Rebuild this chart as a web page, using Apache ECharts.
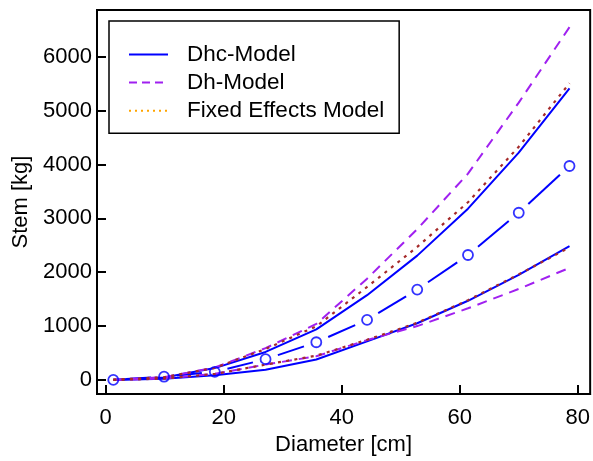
<!DOCTYPE html>
<html>
<head>
<meta charset="utf-8">
<script src="https://cdn.jsdelivr.net/npm/echarts@6/dist/echarts.min.js"></script>
<style>
html,body{margin:0;padding:0;background:#fff;}
#chart{width:593px;height:461px;}
</style>
</head>
<body>
<div id="chart"></div>
<script>
// ---- data ----
const diameters   = [1.3, 9.9, 18.5, 27.1, 35.7, 44.3, 52.8, 61.4, 70.0, 78.6];
const meanStem    = [0, 60, 150, 385, 700, 1115, 1677, 2320, 3104, 3972];
const dhcUpper    = [5, 45, 220, 520, 940, 1574, 2308, 3180, 4220, 5412];
const dhcLower    = [0, 20, 86, 190, 380, 716, 1053, 1470, 1950, 2485];
const dhUpper     = [5, 50, 230, 590, 1040, 1880, 2800, 3830, 5150, 6551];
const dhLower     = [0, 25, 115, 285, 440, 740, 1000, 1330, 1690, 2081];
const fixedUpper  = [5, 50, 225, 575, 995, 1726, 2470, 3300, 4330, 5510];
const fixedLower  = [0, 25, 110, 285, 450, 745, 1060, 1480, 1960, 2461];
const xTicks = [0, 20, 40, 60, 80];
const yTicks = [0, 1000, 2000, 3000, 4000, 5000, 6000];
const seriesNames = ['Dhc-Model', 'Dh-Model', 'Fixed Effects Model'];

const FONT = "'Liberation Sans', Arial, sans-serif";
const pairs = vals => diameters.map((d, i) => [d, vals[i]]);

function lineSeries(name, vals, color, type, width) {
  return {
    type: 'line', name: name, data: pairs(vals), symbol: 'none',
    lineStyle: { color: color, type: type, width: width, cap: 'butt' },
    itemStyle: { color: color }, silent: true
  };
}

const segments = [];
for (let i = 0; i < diameters.length - 1; i++) {
  segments.push([diameters[i], meanStem[i], diameters[i + 1], meanStem[i + 1]]);
}

const chart = echarts.init(document.getElementById('chart'), null, { renderer: 'canvas' });
chart.setOption({
  animation: false,
  backgroundColor: '#fff',
  textStyle: { fontFamily: FONT },
  grid: { left: 97, right: 1.5, top: 10, bottom: 62.7, show: true, borderColor: '#000', borderWidth: 2 },
  xAxis: {
    type: 'value', min: -1.46, max: 82.1,
    name: 'Diameter [cm]', nameLocation: 'middle', nameGap: 30,
    nameTextStyle: { fontSize: 22, color: '#000', fontFamily: FONT },
    axisLine: { show: true, onZero: false, lineStyle: { color: '#000', width: 2 } },
    axisTick: { show: true, inside: true, length: 9, lineStyle: { color: '#000', width: 2 }, customValues: xTicks },
    axisLabel: { fontSize: 22, color: '#000', margin: 13, fontFamily: FONT, customValues: xTicks, formatter: v => String(v) },
    splitLine: { show: false }
  },
  yAxis: {
    type: 'value', min: -263, max: 6869,
    name: 'Stem [kg]', nameLocation: 'middle', nameGap: 64, nameRotate: 90,
    nameTextStyle: { fontSize: 22, color: '#000', fontFamily: FONT },
    axisLine: { show: true, onZero: false, lineStyle: { color: '#000', width: 2 } },
    axisTick: { show: true, inside: true, length: 9, lineStyle: { color: '#000', width: 2 }, customValues: yTicks },
    axisLabel: { fontSize: 22, color: '#000', margin: 5, fontFamily: FONT, customValues: yTicks, formatter: v => String(v) },
    splitLine: { show: false }
  },
  legend: {
    show: true, orient: 'vertical', left: 109, top: 21,
    padding: [22, 15, 11, 19],
    borderColor: '#000', borderWidth: 1.5, backgroundColor: '#fff',
    itemWidth: 39, itemHeight: 14, itemGap: 5.1,
    textStyle: { fontSize: 22.5, color: '#000', fontFamily: FONT, lineHeight: 22, padding: [0, 0, 0, 14] },
    data: [
      { name: seriesNames[0], itemStyle: { opacity: 0 }, lineStyle: { color: '#0000FF', width: 2, type: 'solid' } },
      { name: seriesNames[1], itemStyle: { opacity: 0 }, lineStyle: { color: '#A020F0', width: 2, type: [8, 5] } },
      { name: seriesNames[2], itemStyle: { opacity: 0 }, lineStyle: { color: '#FFA500', width: 2, type: [2, 4] } }
    ]
  },
  series: [
    lineSeries(seriesNames[0], dhcUpper, '#0000FF', 'solid', 2),
    lineSeries(seriesNames[0], dhcLower, '#0000FF', 'solid', 2),
    lineSeries(seriesNames[1], dhUpper, '#A020F0', [10, 7], 2),
    lineSeries(seriesNames[1], dhLower, '#A020F0', [10, 7], 2),
    lineSeries(seriesNames[2], fixedUpper, '#A52A2A', [3, 5.3], 2.2),
    lineSeries(seriesNames[2], fixedLower, '#A52A2A', [3, 5.3], 2.2),
    {
      type: 'custom', name: 'mean', data: segments, silent: true,
      encode: { x: [0, 2], y: [1, 3] },
      renderItem: function (params, api) {
        const p1 = api.coord([api.value(0), api.value(1)]);
        const p2 = api.coord([api.value(2), api.value(3)]);
        const dx = p2[0] - p1[0], dy = p2[1] - p1[1];
        const len = Math.sqrt(dx * dx + dy * dy);
        const gap = 13;
        if (len <= 2 * gap) return null;
        const ux = dx / len, uy = dy / len;
        return {
          type: 'line',
          shape: { x1: p1[0] + ux * gap, y1: p1[1] + uy * gap, x2: p2[0] - ux * gap, y2: p2[1] - uy * gap },
          style: { stroke: '#0000FF', lineWidth: 2 }
        };
      },
      z: 3
    },
    {
      type: 'scatter', name: 'meanPoints', data: pairs(meanStem), silent: true,
      symbol: 'circle', symbolSize: 10,
      itemStyle: { color: 'rgba(0,0,0,0)', borderColor: '#0000FF', borderWidth: 1.8 },
      z: 4
    }
  ]
});
</script>
</body>
</html>
